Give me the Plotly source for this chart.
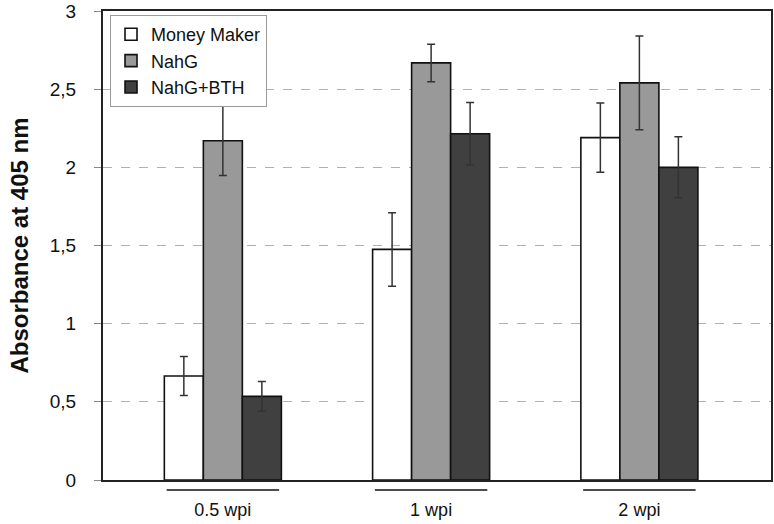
import plotly.graph_objects as go

categories = ["0.5 wpi", "1 wpi", "2 wpi"]
series_names = ["Money Maker", "NahG", "NahG+BTH"]
mm_values = [0.665, 1.475, 2.19]
mm_errors = [0.125, 0.235, 0.222]
nahg_values = [2.17, 2.668, 2.54]
nahg_errors = [0.222, 0.12, 0.30]
bth_values = [0.535, 2.215, 2.0]
bth_errors = [0.095, 0.2, 0.195]
y_ticks = [0, 0.5, 1, 1.5, 2, 2.5, 3]
y_tick_labels = ["0", "0,5", "1", "1,5", "2", "2,5", "3"]

colors = ["#ffffff", "#999999", "#404040"]
FONT = "Liberation Sans, Arial, sans-serif"

fig = go.Figure()
for name, vals, errs, col in zip(series_names,
                                 [mm_values, nahg_values, bth_values],
                                 [mm_errors, nahg_errors, bth_errors],
                                 colors):
    fig.add_trace(go.Bar(
        x=categories, y=vals, name=name,
        marker=dict(color=col, line=dict(color="#111111", width=1.6)),
        error_y=dict(type="data", array=errs, visible=True,
                     color="#333333", thickness=1.5, width=4),
    ))

# short lines above category labels
for i, _ in enumerate(categories):
    fig.add_shape(type="line", xref="x", yref="paper",
                  x0=i - 0.27, x1=i + 0.27, y0=-0.0213, y1=-0.0213,
                  line=dict(color="#111111", width=1.5))

fig.update_layout(
    width=774, height=524,
    margin=dict(l=103, r=3, t=11, b=44, autoexpand=False),
    paper_bgcolor="white", plot_bgcolor="white",
    barmode="group", bargap=0.438, bargroupgap=0,
    font=dict(family=FONT, size=18, color="#111111"),
    legend=dict(x=0.0105, y=0.9915, xanchor="left", yanchor="top",
                bgcolor="white", bordercolor="#999999", borderwidth=1,
                font=dict(size=18, family=FONT), traceorder="normal",
                itemwidth=30),
    showlegend=True,
)

fig.update_xaxes(
    type="category", range=[-0.5755, 2.632], automargin=False,
    showgrid=False, ticks="", showline=True, linecolor="#222222", linewidth=2,
    mirror=True, tickfont=dict(size=18, family=FONT),
    ticklabelstandoff=12,
)
fig.update_yaxes(
    range=[0, 3], tickvals=y_ticks, ticktext=y_tick_labels, automargin=False,
    showgrid=True, gridcolor="#b0b0b0", griddash="dash", gridwidth=1,
    zeroline=False, showline=True, linecolor="#222222", linewidth=2, mirror=True,
    ticks="outside", ticklen=7, tickcolor="#888888",
    tickfont=dict(size=19, family=FONT), ticklabelstandoff=14,
    title=dict(text="<b>Absorbance at 405 nm</b>",
               font=dict(size=24, family=FONT), standoff=14),
)

fig.write_html(
    "out.html",
    config={"displayModeBar": False},
    post_script="document.body.style.margin='0px';document.body.style.overflow='hidden';",
)
